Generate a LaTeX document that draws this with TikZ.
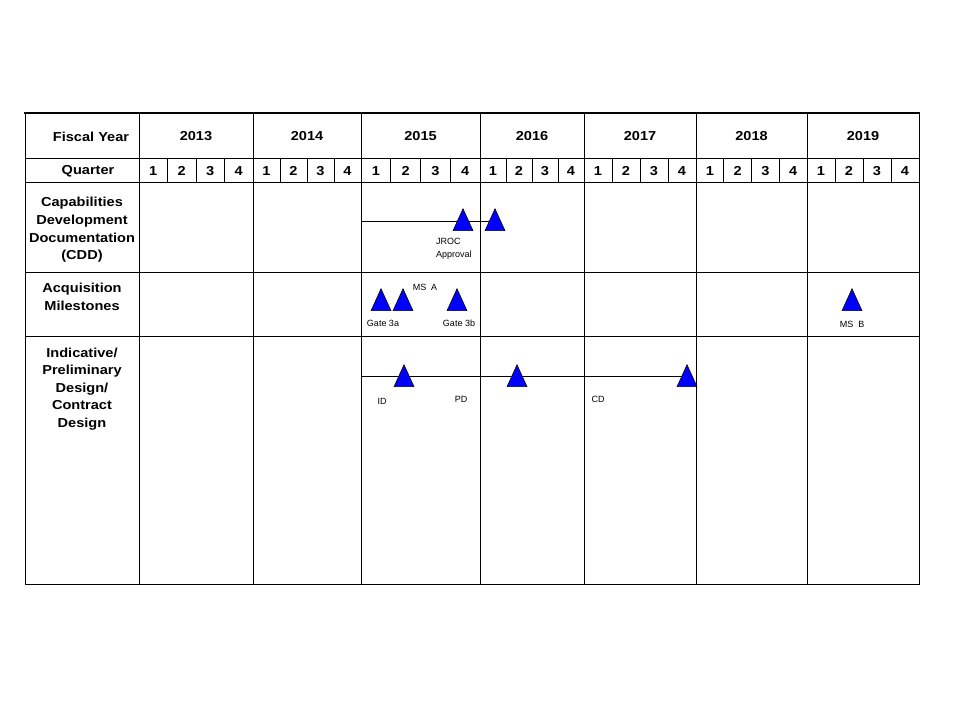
\documentclass[tikz,border=0pt]{standalone}
\usepackage{fontspec}
\setmainfont{Liberation Sans}[FakeStretch=1.12]
\newfontfamily\notefont{Liberation Sans}
\usetikzlibrary{positioning,shapes.geometric,backgrounds}

\begin{document}
\begin{tikzpicture}[x=1pt, y=-1pt, every node/.style={font=\small}]
  % Styles
  \tikzset{
    grid/.style={draw=black, line width=1pt},
    head/.style={font=\fontsize{13}{17.6}\selectfont\bfseries, align=center, inner sep=0pt},
    milestone/.style={draw=black, line width=0.5pt, fill=blue, isosceles triangle, isosceles triangle stretches,
      shape border rotate=90, minimum width=20pt, minimum height=22pt, inner sep=0pt, anchor=apex},
    note/.style={font=\notefont\fontsize{9}{13}\selectfont, align=left, inner sep=0pt},
    track/.style={draw=black, line width=1pt}
  }
  \useasboundingbox (0,0) rectangle (960,720);

  % Table frame
  \draw[grid] (25,113) -- (25,584) -- (919,584) -- (919,113);
  \draw[line width=2pt] (24,113) -- (920,113);
  \foreach \y in {158,182,272,336} \draw[grid] (25,\y) -- (919,\y);
  \draw[grid] (139,113) -- (139,584);

  % Row headings
  \node[head] (fy) at (91,137) {Fiscal Year};
  \node[head] (qtr) at (88,171) {Quarter};
  \node[head] (cdd) at (82,230) {Capabilities\\Development\\Documentation\\(CDD)};
  \node[head] (acq) at (82,297) {Acquisition\\Milestones};
  \node[head] (dsg) at (82,389) {Indicative/\\Preliminary\\Design/\\Contract\\Design};

  % Years and quarters
  \foreach \a/\b/\yr in {139/253/2013, 253/361/2014, 361/480/2015, 480/584/2016,
                         584/696/2017, 696/807/2018, 807/919/2019} {
    \draw[grid] (\b,113) -- (\b,584);
    \node[head] (y\yr) at ({(\a+\b)/2},136) {\yr};
    \pgfmathsetmacro{\w}{(\b-\a)/4}
    \foreach \q in {1,2,3} \draw[grid] ({\a+\q*\w},158) -- ({\a+\q*\w},182);
    \foreach \q in {1,2,3,4} \node[head] (q\yr-\q) at ({\a+(\q-0.5)*\w},171) {\q};
  }

  % CDD milestones
  \node[milestone] (cddA) at (463,208) {};
  \node[milestone] (cddB) at (495,208) {};
  \node[note, anchor=north west] (jroc) at (436,238.5) {JROC\\Approval};
  \coordinate (cddstart) at (361,221);

  % Acquisition milestones
  \node[milestone] (gate3a) at (381,288) {};
  \node[milestone] (msA) at (403,288) {};
  \node[milestone] (gate3b) at (457,288) {};
  \node[milestone] (msB) at (852,288) {};
  \node[note] (msAlbl) at (425,287) {MS\ \ A};
  \node[note] (gate3albl) at (383,323) {Gate 3a};
  \node[note] (gate3blbl) at (459,323) {Gate 3b};
  \node[note] (msBlbl) at (852,324) {MS\ \ B};

  % Design milestones
  \node[milestone] (id) at (404,364) {};
  \node[milestone] (pd) at (517,364) {};
  \node[milestone] (cd) at (687,364) {};
  \node[note] (idlbl) at (382,401) {ID};
  \node[note] (pdlbl) at (461,399) {PD};
  \node[note] (cdlbl) at (598,399) {CD};
  \coordinate (dsgstart) at (361,376);

  % Tracks behind the triangles
  \begin{scope}[on background layer]
    \draw[track] (cddstart) -- (cddstart -| cddB);
    \draw[track] (dsgstart) -- (dsgstart -| cd);
  \end{scope}
\end{tikzpicture}
\end{document}
